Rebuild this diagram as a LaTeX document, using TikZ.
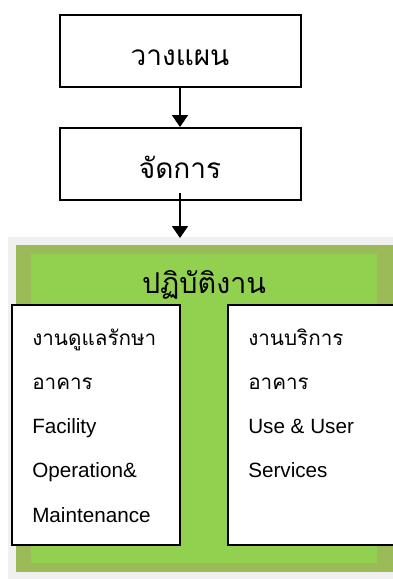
\documentclass[tikz,border=0pt]{standalone}
\usepackage{fontspec}
\setmainfont{Liberation Sans}
\newfontfamily\thaifont[Script=Thai]{Loma}
\usetikzlibrary{arrows.meta,calc}
\definecolor{pagegray}{HTML}{F0F0F0}
\definecolor{olivegreen}{HTML}{9BBB59}
\definecolor{brightgreen}{HTML}{92D050}
\tikzset{
  stagebox/.style={draw, line width=1.5pt, fill=white, minimum width=180.75pt,
    minimum height=54pt, inner sep=0pt, text height=21pt, text depth=0pt,
    font=\thaifont\fontsize{21}{24}\selectfont},
  workbox/.style={draw, line width=1.5pt, fill=white, minimum height=180pt, inner sep=0pt},
  flowarrow/.style={line width=1.5pt, -{Triangle[width=12pt,length=9pt]}},
  boxline/.style={anchor=base west, inner sep=0pt, font=\fontsize{15.5}{18}\selectfont}
}
\begin{document}
\begin{tikzpicture}[x=0.75pt, y=-0.75pt]
        \useasboundingbox (0, 0) rectangle (393, 579);
        \clip (0, 0) rectangle (393, 579);

        % planning and managing
        \node [stagebox] (plan) at (180, 51) {วางแผน};
        \node [stagebox] (manage) at (180, 164) {จัดการ};

        % operations panel
        \fill [pagegray] (8, 237) rectangle (400, 579);
        \fill [olivegreen] (16, 245) rectangle (400, 572);
        \fill [brightgreen] (31, 254) rectangle (377, 563);
        \coordinate (ops) at (180, 238);
        \node [anchor=base, inner sep=0pt, font=\thaifont\fontsize{21.5}{24}\selectfont] (opstitle) at (204, 293) {ปฏิบัติงาน};

        \draw [flowarrow] (plan) -- (manage);
        \coordinate (managefoot) at (180, 193);
        \draw [flowarrow] (managefoot) -- (ops);

        % the two kinds of work
        \node [workbox, minimum width=126pt] (upkeep) at (96, 425) {};
        \node [workbox, minimum width=129pt] (service) at (314, 425) {};

        \foreach \t [count=\i] in {{\thaifont งานดูแลรักษา}, {\thaifont อาคาร}, Facility, Operation\&, Maintenance}
          \node [boxline] (upkeep\i) at (32, 345 + 44.25 * \i - 44.25) {\t};
        \foreach \t [count=\i] in {{\thaifont งานบริการ}, {\thaifont อาคาร}, Use \& User, Services}
          \node [boxline] (service\i) at (248, 345 + 44.25 * \i - 44.25) {\t};
      \end{tikzpicture}
\end{document}
